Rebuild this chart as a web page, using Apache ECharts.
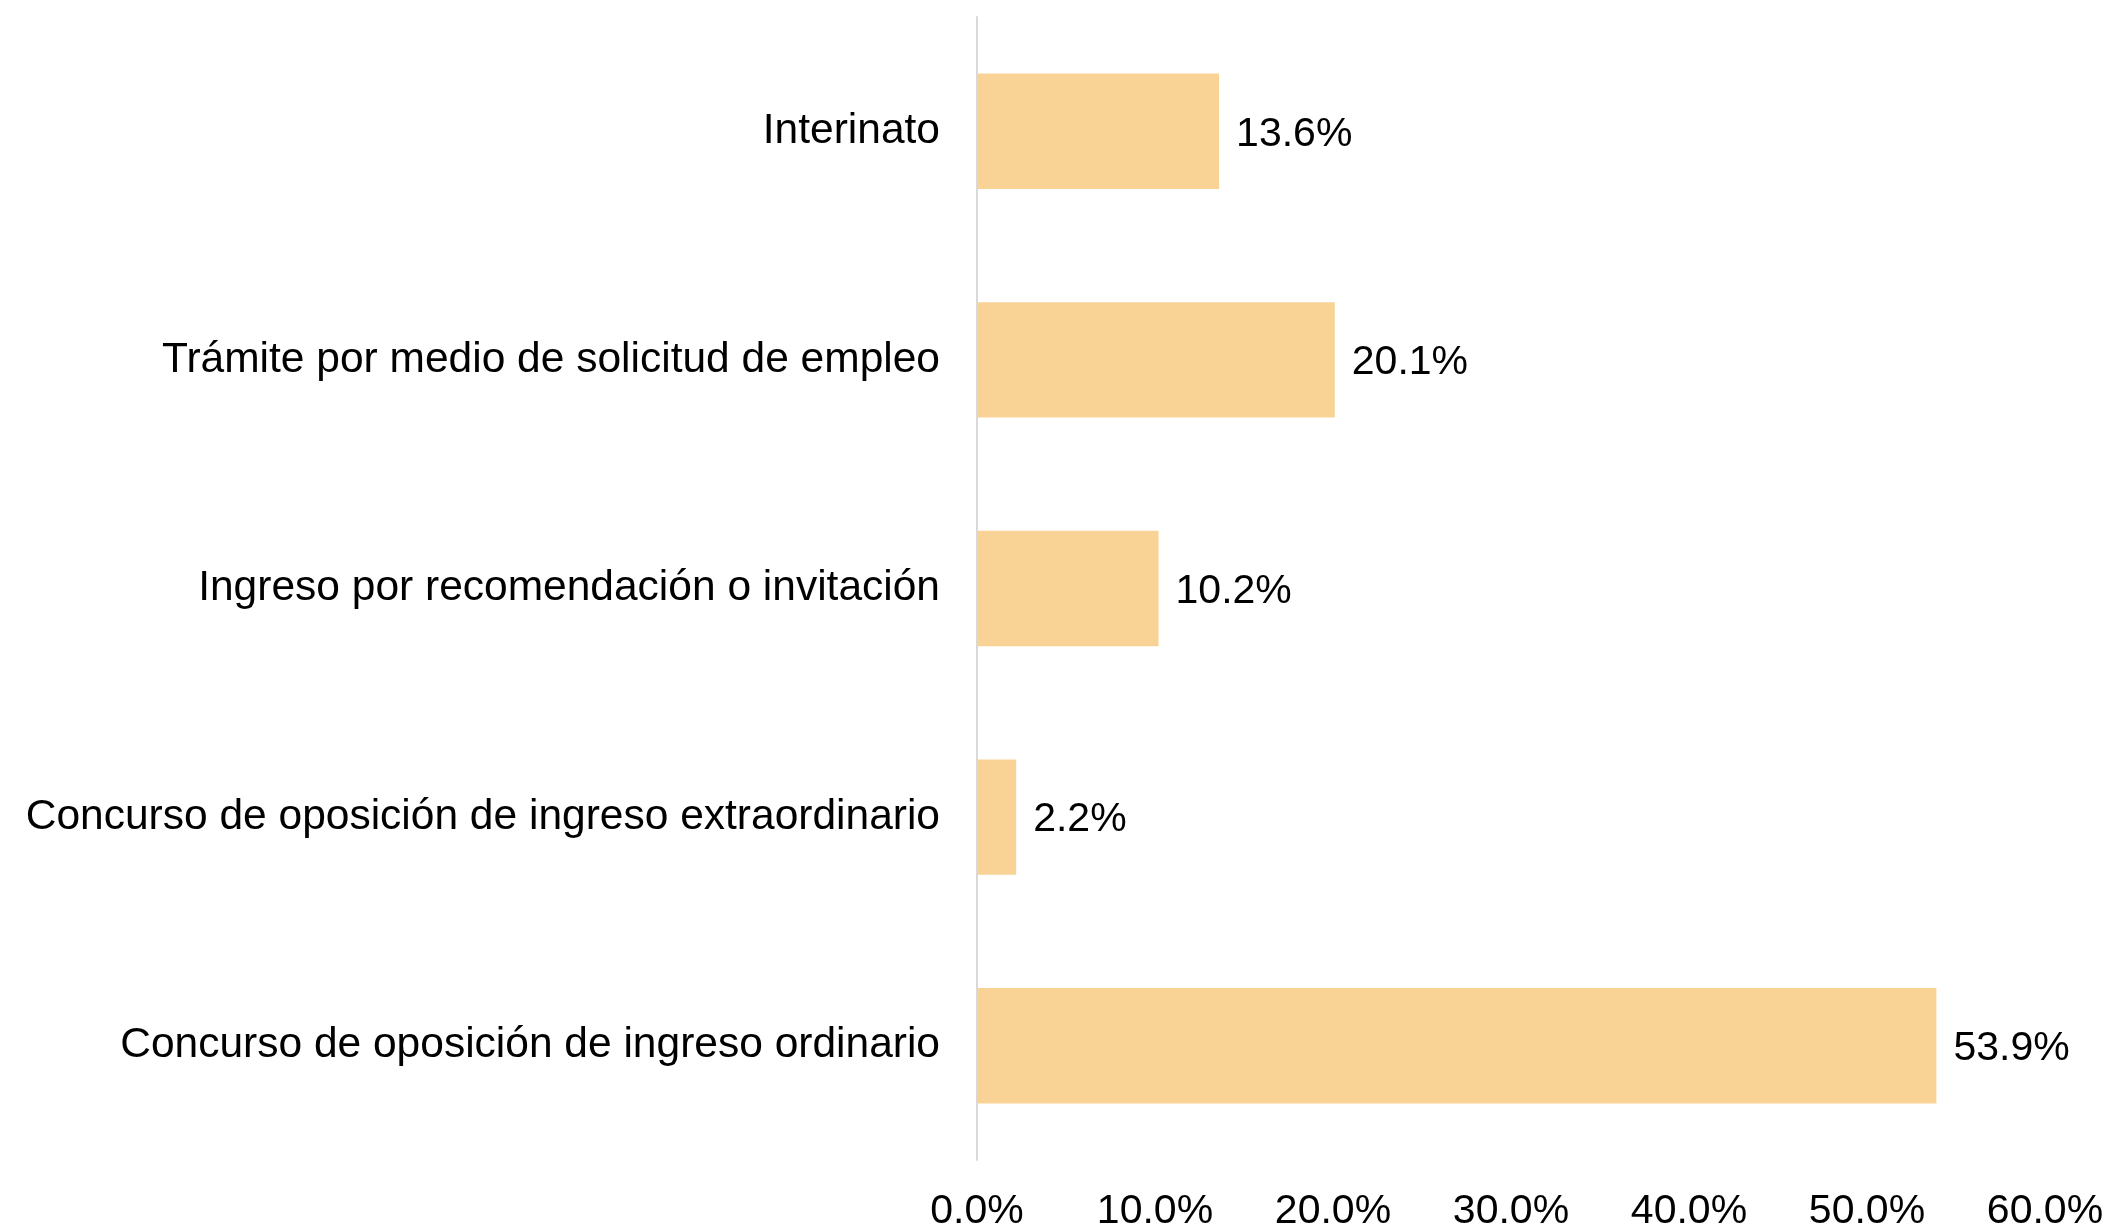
<!DOCTYPE html>
<html>
<head>
<meta charset="utf-8">
<script src="https://cdn.jsdelivr.net/npm/echarts@6/dist/echarts.min.js"></script>
<style>
  html, body { margin: 0; padding: 0; background: #fff; }
  #chart { width: 2111px; height: 1232px; }
</style>
</head>
<body>
<div id="chart"></div>
<script>
// bottom to top, as the category axis draws them
var categories = [
  'Concurso de oposición de ingreso ordinario',
  'Concurso de oposición de ingreso extraordinario',
  'Ingreso por recomendación o invitación',
  'Trámite por medio de solicitud de empleo',
  'Interinato'
];
var values = [53.9, 2.2, 10.2, 20.1, 13.6];
var xTicks = [0, 10, 20, 30, 40, 50, 60];

var chart = echarts.init(document.getElementById('chart'));

var font = 'Liberation Sans, Arial, sans-serif';

var option = {
  animation: false,
  grid: {
    left: 977,
    right: 66,
    top: 17,
    bottom: 68
  },
  xAxis: {
    type: 'value',
    min: xTicks[0],
    max: xTicks[xTicks.length - 1],
    interval: 10,
    splitLine: { show: false },
    axisLine: { show: false },
    axisTick: { show: false },
    axisLabel: {
      margin: 31,
      color: '#000',
      fontSize: 41,
      fontFamily: font,
      formatter: function (v) { return v.toFixed(1) + '%'; }
    }
  },
  yAxis: {
    type: 'category',
    data: categories,
    axisLine: { show: true, lineStyle: { color: '#d9d9d9', width: 2 } },
    axisTick: { show: false },
    axisLabel: {
      margin: 37,
      color: '#000',
      fontSize: 42.5,
      fontFamily: font,
      padding: [6, 0, 0, 0]
    }
  },
  series: [
    {
      type: 'bar',
      data: values,
      barWidth: '50.5%',
      itemStyle: { color: '#F9D396' },
      label: {
        show: true,
        position: 'right',
        distance: 17,
        offset: [0, 3],
        color: '#000',
        fontSize: 41,
        fontFamily: font,
        formatter: function (p) { return p.value.toFixed(1) + '%'; }
      }
    }
  ]
};

chart.setOption(option);
</script>
</body>
</html>
